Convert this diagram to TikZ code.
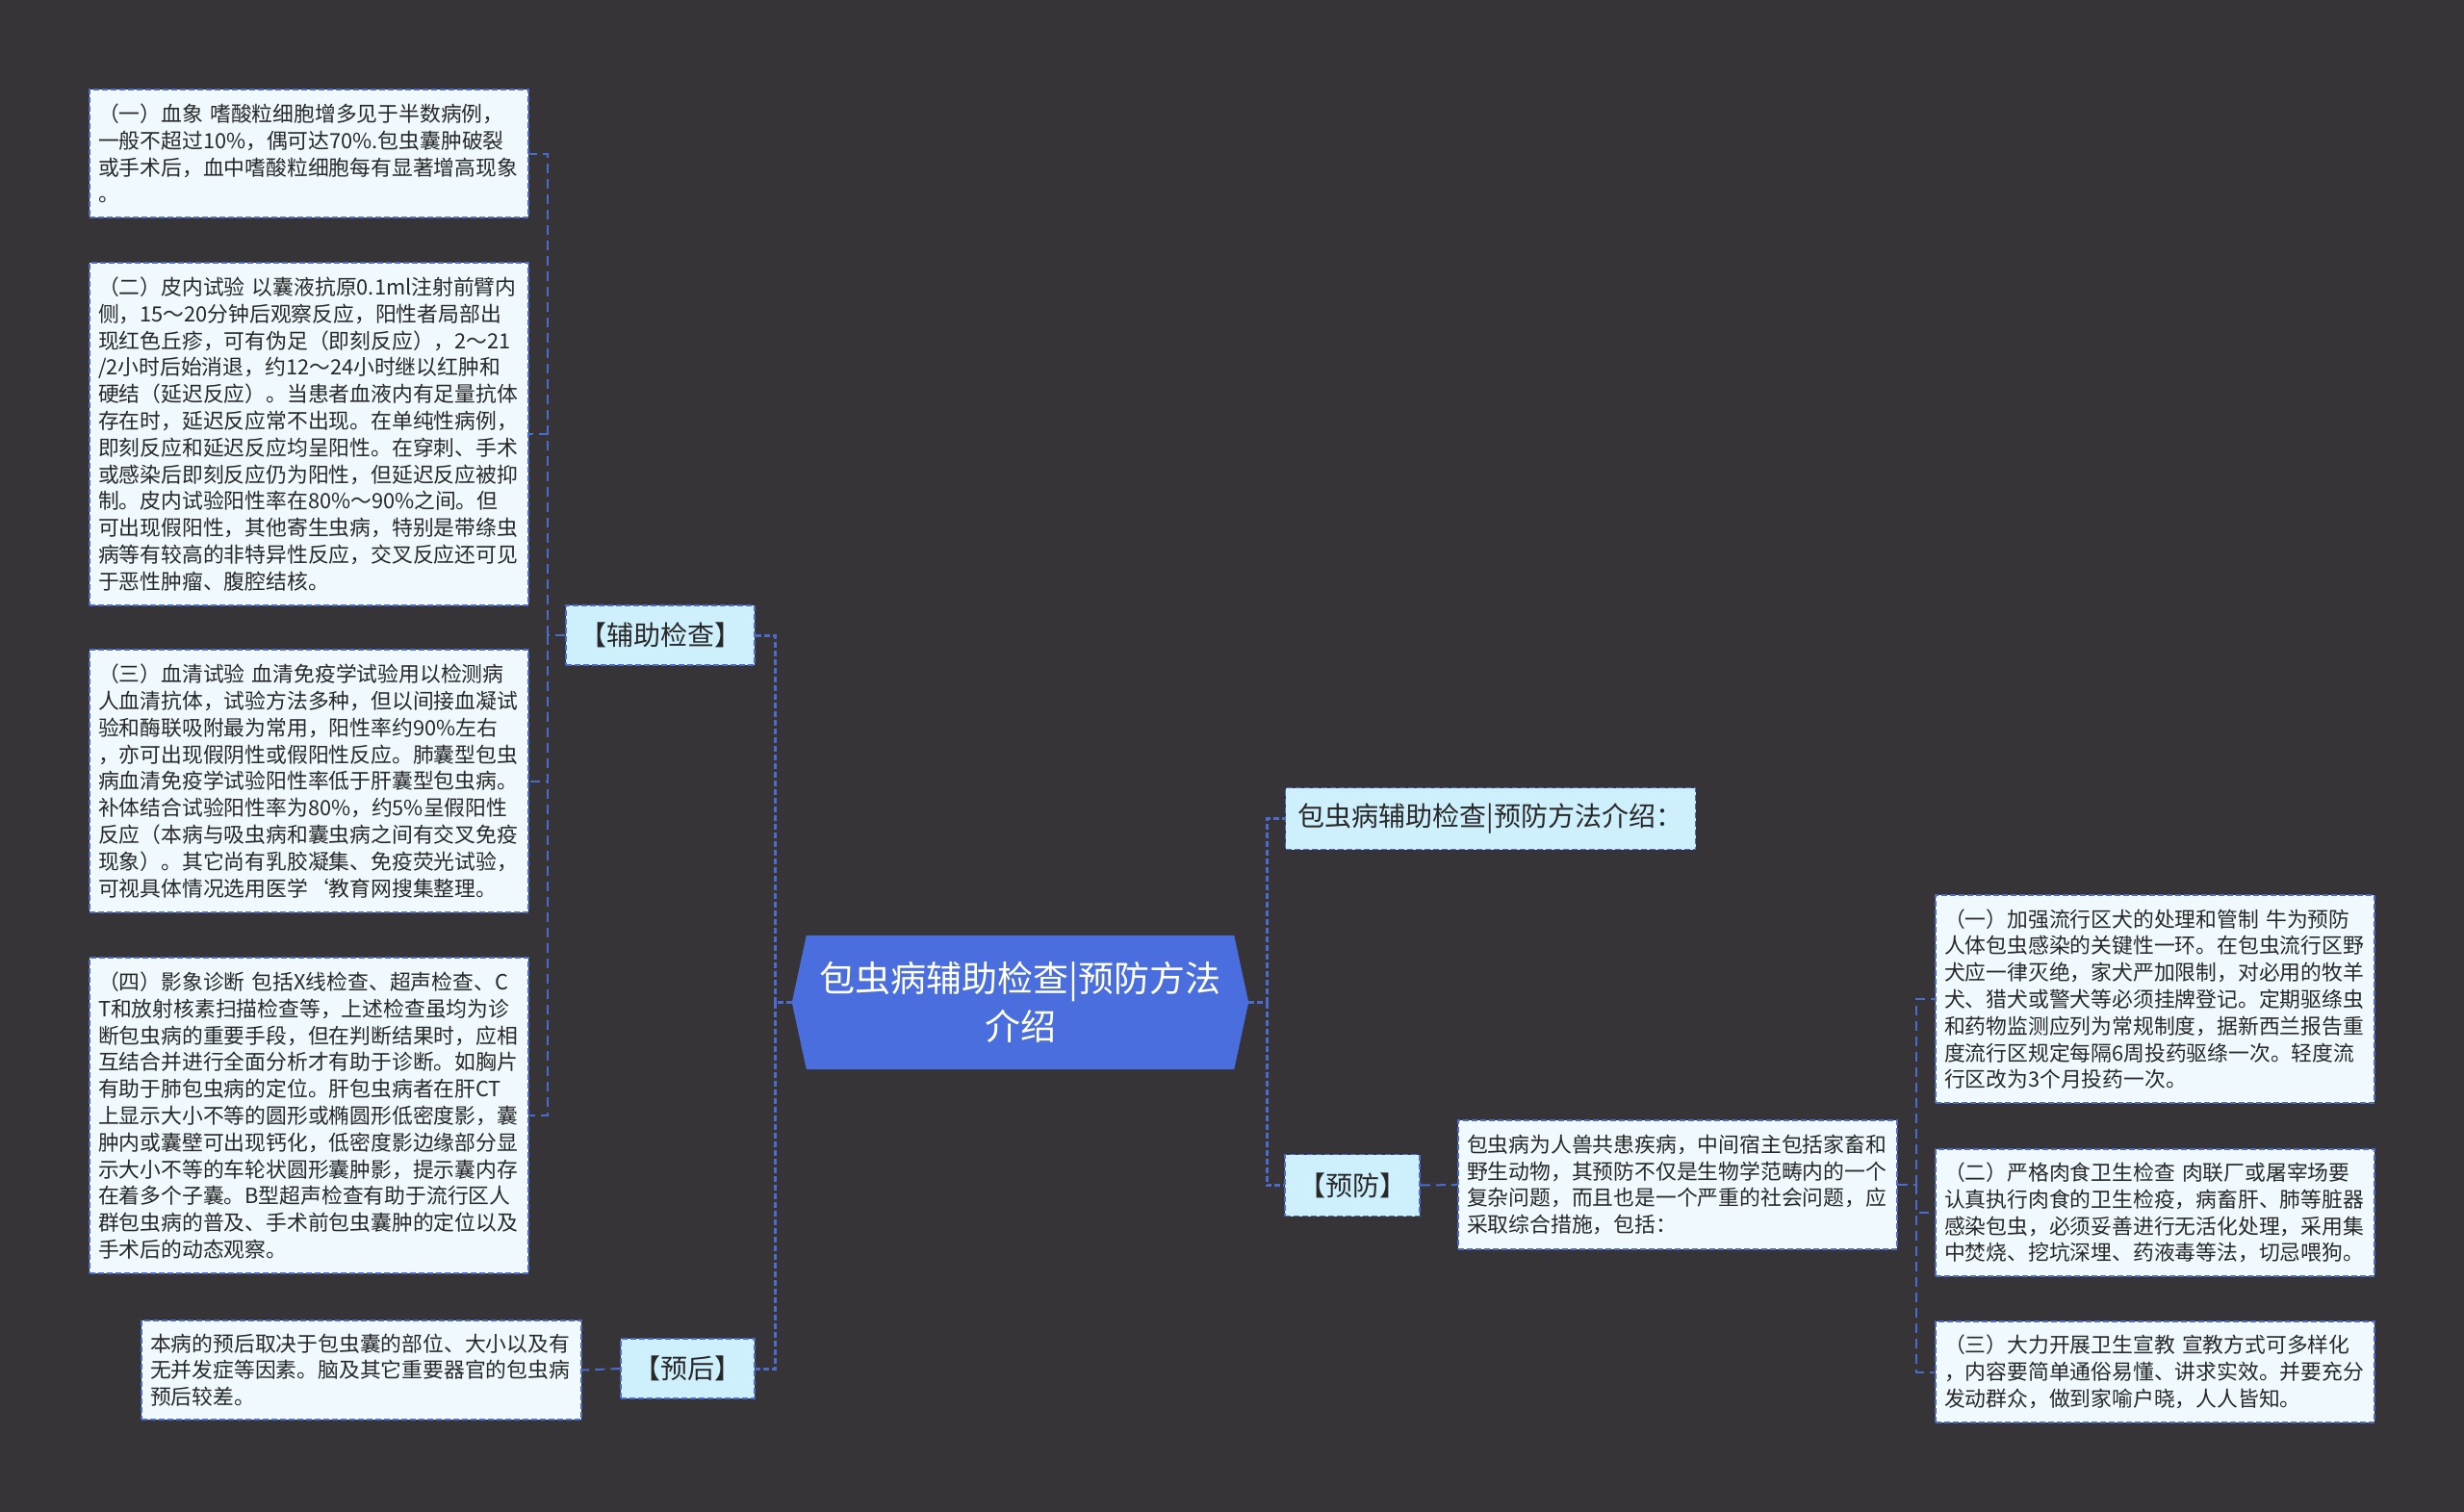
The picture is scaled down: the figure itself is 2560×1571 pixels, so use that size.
\documentclass[tikz,border=0pt]{standalone}
\usepackage{fontspec}
\setmainfont{Noto Sans CJK SC}
\usetikzlibrary{backgrounds,calc}
\definecolor{bg}{RGB}{54,52,55}
\definecolor{edge}{RGB}{75,108,205}
\definecolor{leaffill}{RGB}{240,250,254}
\definecolor{labfill}{RGB}{206,239,252}
\definecolor{rootfill}{RGB}{75,110,222}
\definecolor{txt}{RGB}{40,40,40}
\begin{document}
\begin{tikzpicture}[x=1pt,y=-1pt,
 boxline/.style={draw=edge, line width=1.5pt, dash pattern=on 6pt off 3pt},
 leaf/.style={boxline, fill=leaffill, text=txt, align=left, inner xsep=9pt, inner ysep=0pt, minimum width=456pt, text width=438pt, font=\fontsize{21.8pt}{27.8pt}\selectfont},
 lab/.style={boxline, fill=labfill, text=txt, align=center, inner sep=0pt, font=\fontsize{28pt}{34pt}\selectfont},
 root/.style={text=white, align=center, inner sep=0pt, font=\fontsize{37pt}{50pt}\selectfont},
 trunk/.style={draw=edge, line width=3pt, dash pattern=on 6pt off 3pt},
 twig/.style={draw=edge, line width=2pt, dash pattern=on 10pt off 6pt},
]
\useasboundingbox (0,0) rectangle (2560,1571);

% root
\node[root, minimum width=474pt, minimum height=139pt] (root) at (1060,1041.5) {包虫病辅助检查|预防方法\\介绍};

% level 1
\node[lab, minimum width=196pt, minimum height=62pt] (aux) at (686,660) {【辅助检查】};
\node[lab, minimum width=139pt, minimum height=62pt] (prog) at (714.5,1422) {【预后】};
\node[lab, minimum width=426pt, minimum height=64pt] (title) at (1548.5,850.5) {包虫病辅助检查|预防方法介绍：};
\node[lab, minimum width=140pt, minimum height=64pt] (prev) at (1405,1231.5) {【预防】};

% left leaves
\node[leaf, minimum height=133pt] (a1) at (321,159.5) {（一）血象 嗜酸粒细胞增多见于半数病例，\\一般不超过10\%，偶可达70\%.包虫囊肿破裂\\或手术后，血中嗜酸粒细胞每有显著增高现象\\。};
\node[leaf, minimum height=356pt] (a2) at (321,451) {（二）皮内试验 以囊液抗原0.1ml注射前臂内\\侧，15～20分钟后观察反应，阳性者局部出\\现红色丘疹，可有伪足（即刻反应），2～21\\/2小时后始消退，约12～24小时继以红肿和\\硬结（延迟反应）。当患者血液内有足量抗体\\存在时，延迟反应常不出现。在单纯性病例，\\即刻反应和延迟反应均呈阳性。在穿刺、手术\\或感染后即刻反应仍为阳性，但延迟反应被抑\\制。皮内试验阳性率在80\%～90\%之间。但\\可出现假阳性，其他寄生虫病，特别是带绦虫\\病等有较高的非特异性反应，交叉反应还可见\\于恶性肿瘤、腹腔结核。};
\node[leaf, minimum height=273pt] (a3) at (321,811.5) {（三）血清试验 血清免疫学试验用以检测病\\人血清抗体，试验方法多种，但以间接血凝试\\验和酶联吸附最为常用，阳性率约90\%左右\\，亦可出现假阴性或假阳性反应。肺囊型包虫\\病血清免疫学试验阳性率低于肝囊型包虫病。\\补体结合试验阳性率为80\%，约5\%呈假阳性\\反应（本病与吸虫病和囊虫病之间有交叉免疫\\现象）。其它尚有乳胶凝集、免疫荧光试验，\\可视具体情况选用医学`教育网搜集整理。};
\node[leaf, minimum height=328pt] (a4) at (321,1159) {（四）影象诊断 包括X线检查、超声检查、C\\T和放射核素扫描检查等，上述检查虽均为诊\\断包虫病的重要手段，但在判断结果时，应相\\互结合并进行全面分析才有助于诊断。如胸片\\有助于肺包虫病的定位。肝包虫病者在肝CT\\上显示大小不等的圆形或椭圆形低密度影，囊\\肿内或囊壁可出现钙化，低密度影边缘部分显\\示大小不等的车轮状圆形囊肿影，提示囊内存\\在着多个子囊。B型超声检查有助于流行区人\\群包虫病的普及、手术前包虫囊肿的定位以及\\手术后的动态观察。};
\node[leaf, minimum width=457pt, text width=439pt, minimum height=103pt] (progtxt) at (375.5,1423.5) {本病的预后取决于包虫囊的部位、大小以及有\\无并发症等因素。脑及其它重要器官的包虫病\\预后较差。};

% right leaves
\node[leaf, minimum height=134pt] (prevtxt) at (1743,1231) {包虫病为人兽共患疾病，中间宿主包括家畜和\\野生动物，其预防不仅是生物学范畴内的一个\\复杂问题，而且也是一个严重的社会问题，应\\采取综合措施，包括：};
\node[leaf, minimum height=216pt] (r1) at (2239,1038) {（一）加强流行区犬的处理和管制 牛为预防\\人体包虫感染的关键性一环。在包虫流行区野\\犬应一律灭绝，家犬严加限制，对必用的牧羊\\犬、猎犬或警犬等必须挂牌登记。定期驱绦虫\\和药物监测应列为常规制度，据新西兰报告重\\度流行区规定每隔6周投药驱绦一次。轻度流\\行区改为3个月投药一次。};
\node[leaf, minimum height=132pt] (r2) at (2239,1260) {（二）严格肉食卫生检查 肉联厂或屠宰场要\\认真执行肉食的卫生检疫，病畜肝、肺等脏器\\感染包虫，必须妥善进行无活化处理，采用集\\中焚烧、挖坑深埋、药液毒等法，切忌喂狗。};
\node[leaf, minimum height=105pt] (r3) at (2239,1425.5) {（三）大力开展卫生宣教 宣教方式可多样化\\，内容要简单通俗易懂、讲求实效。并要充分\\发动群众，做到家喻户晓，人人皆知。};

% junctions
\coordinate (jl) at (805,1041.5);
\coordinate (jr) at (1316,1041.5);
\coordinate (jl2) at (569,660);
\coordinate (jr2) at (1991,1231);

% connectors
\draw[trunk] (root.west) -- (jl);
\draw[trunk] (jl) |- (aux.east);
\draw[trunk] (jl) |- (prog.east);
\draw[trunk] (root.east) -- (jr);
\draw[trunk] (jr) |- (title.west);
\draw[trunk] (jr) |- (prev.west);

\draw[twig] (aux.west) -- (jl2);
\draw[twig] (jl2) |- (a1.east);
\draw[twig] (jl2) |- (a2.east);
\draw[twig] (jl2) |- (a3.east);
\draw[twig] (jl2) |- (a4.east);
\draw[twig] (prog.west) -- (progtxt.east);
\draw[twig] (prev.east) -- (prevtxt.west);
\draw[twig] (prevtxt.east) -- (jr2);
\draw[twig] (jr2) |- (r1.west);
\draw[twig] (jr2) |- (r2.west);
\draw[twig] (jr2) |- (r3.west);

\begin{pgfonlayer}{background}
\fill[bg] (0,0) rectangle (2560,1571);
\fill[rootfill] ($(root.north west)+(15,0)$) -- ($(root.north east)+(-15,0)$) -- (root.east) -- ($(root.south east)+(-15,0)$) -- ($(root.south west)+(15,0)$) -- (root.west) -- cycle;
\end{pgfonlayer}
\end{tikzpicture}
\end{document}
